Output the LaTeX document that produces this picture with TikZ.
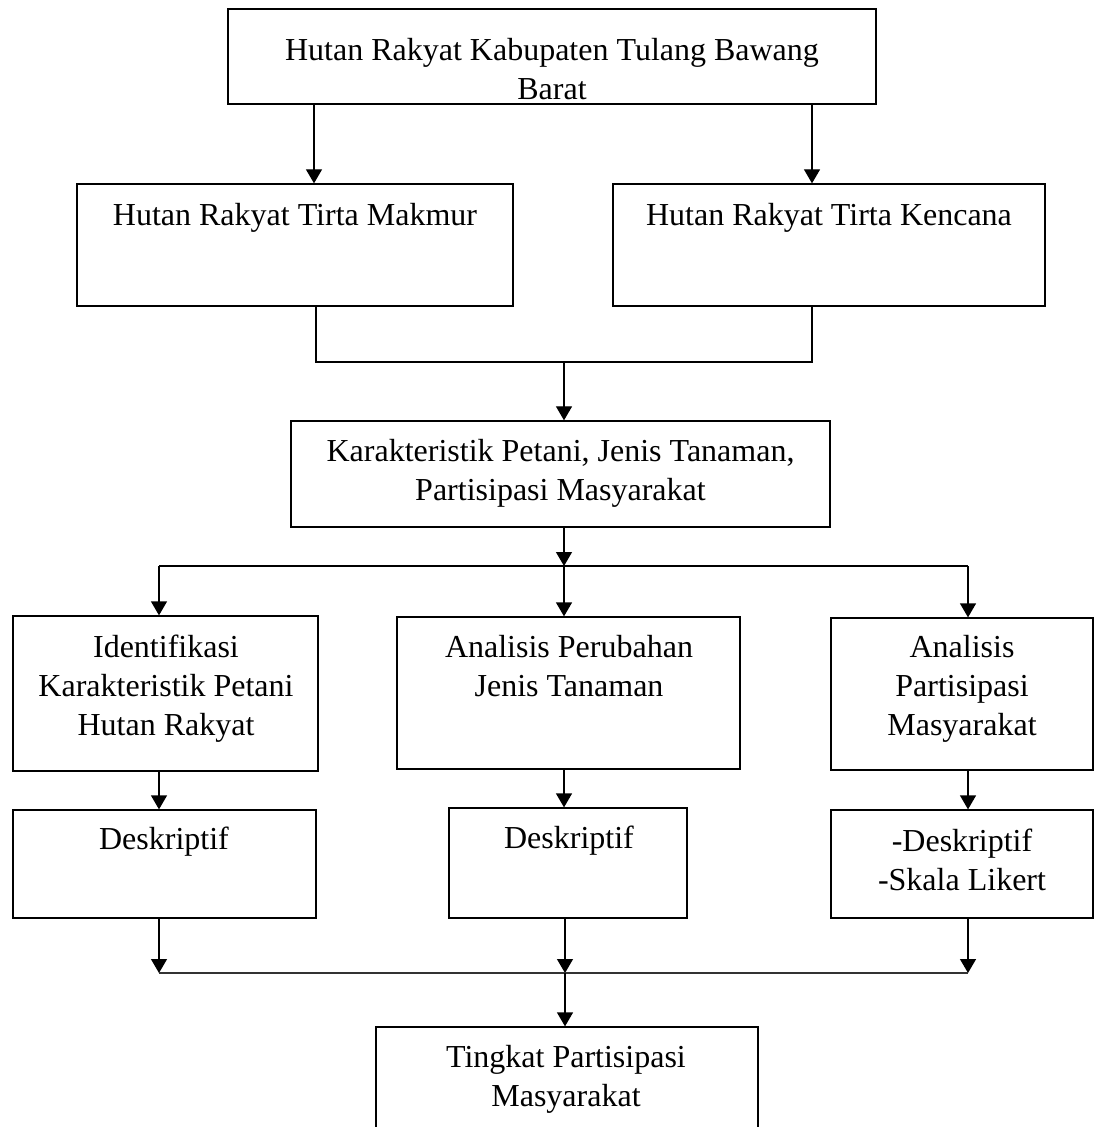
\documentclass[tikz,border=0pt]{standalone}
\usepackage{fontspec}
\setmainfont{Liberation Serif}
\usetikzlibrary{arrows.meta}
\tikzset{
  box/.style={draw, line width=0.65pt, inner sep=0pt, rectangle},
  txt/.style={inner sep=0pt, anchor=north, align=center, font=\fontsize{16}{19.5}\selectfont},
  arr/.style={line width=0.65pt, -{Triangle[length=7pt,width=8pt]}},
  ln/.style={line width=0.65pt},
  busln/.style={line width=0.9pt, black!80}
}
\begin{document}
\begin{tikzpicture}[x=0.5pt,y=-0.5pt]
\useasboundingbox (0,0) rectangle (1094,1127);
\clip (0,0) rectangle (1094,1127);
% boxes
\node[box, minimum width=324pt, minimum height=47.5pt] (top) at (552,56.5) {};
\node[txt] (ttop) at (552,32.7) {\strut Hutan Rakyat Kabupaten Tulang Bawang\\Barat};
\node[box, minimum width=218pt, minimum height=61pt] (tm) at (295,245) {};
\node[txt] (ttm) at (295,197.7) {\strut Hutan Rakyat Tirta Makmur};
\node[box, minimum width=216pt, minimum height=61pt] (tk) at (829,245) {};
\node[txt] (ttk) at (829,197.7) {\strut Hutan Rakyat Tirta Kencana};
\node[box, minimum width=269.5pt, minimum height=53pt] (kp) at (560.5,474) {};
\node[txt] (tkp) at (560.5,433.7) {\strut Karakteristik Petani, Jenis Tanaman,\\Partisipasi Masyarakat};
\node[box, minimum width=152.5pt, minimum height=77.5pt] (id) at (165.5,693.5) {};
\node[txt] (tid) at (166,629.7) {\strut Identifikasi\\Karakteristik Petani\\Hutan Rakyat};
\node[box, minimum width=171.5pt, minimum height=76pt] (ap) at (568.5,693) {};
\node[txt] (tap) at (569,629.7) {\strut Analisis Perubahan\\Jenis Tanaman};
\node[box, minimum width=131pt, minimum height=76pt] (apm) at (962,694) {};
\node[txt] (tapm) at (962,629.7) {\strut Analisis\\Partisipasi\\Masyarakat};
\node[box, minimum width=151.5pt, minimum height=54pt] (d1) at (164.5,864) {};
\node[txt] (td1) at (164,821.7) {\strut Deskriptif};
\node[box, minimum width=119pt, minimum height=55pt] (d2) at (568,863) {};
\node[txt] (td2) at (569,820.7) {\strut Deskriptif};
\node[box, minimum width=131pt, minimum height=54pt] (d3) at (962,864) {};
\node[txt] (td3) at (962,823.7) {\strut -Deskriptif\\-Skala Likert};
\node[box, minimum width=191pt, minimum height=56.5pt] (tp) at (567,1083.5) {};
\node[txt] (ttp) at (566,1039.7) {\strut Tingkat Partisipasi\\Masyarakat};
% junction coordinates
\coordinate (a1) at (314,0);
\coordinate (a2) at (812,0);
\coordinate (m1) at (316,362);
\coordinate (m2) at (812,362);
\coordinate (m3) at (564,362);
\coordinate (h1L) at (159,566);
\coordinate (h1M) at (564,566);
\coordinate (h1R) at (968,566);
\coordinate (h2L) at (159,973);
\coordinate (h2M) at (565,973);
\coordinate (h2R) at (968,973);
% connectors
\draw[arr] (top.south -| a1) -- (tm.north -| a1);
\draw[arr] (top.south -| a2) -- (tk.north -| a2);
\draw[ln] (tm.south -| m1) -- (m1) -- (m2) -- (tk.south -| m2);
\draw[arr] (m3) -- (kp.north -| m3);
\draw[arr] (kp.south -| h1M) -- (h1M);
\draw[ln] (h1L) -- (h1R);
\draw[arr] (h1L) -- (id.north -| h1L);
\draw[arr] (h1M) -- (ap.north -| h1M);
\draw[arr] (h1R) -- (apm.north -| h1R);
\draw[arr] (id.south -| h1L) -- (d1.north -| h1L);
\draw[arr] (ap.south -| h1M) -- (d2.north -| h1M);
\draw[arr] (apm.south -| h1R) -- (d3.north -| h1R);
\draw[arr] (d1.south -| h2L) -- (h2L);
\draw[arr] (d2.south -| h2M) -- (h2M);
\draw[arr] (d3.south -| h2R) -- (h2R);
\draw[busln] (h2L) -- (h2R);
\draw[arr] (h2M) -- (tp.north -| h2M);
\end{tikzpicture}
\end{document}
